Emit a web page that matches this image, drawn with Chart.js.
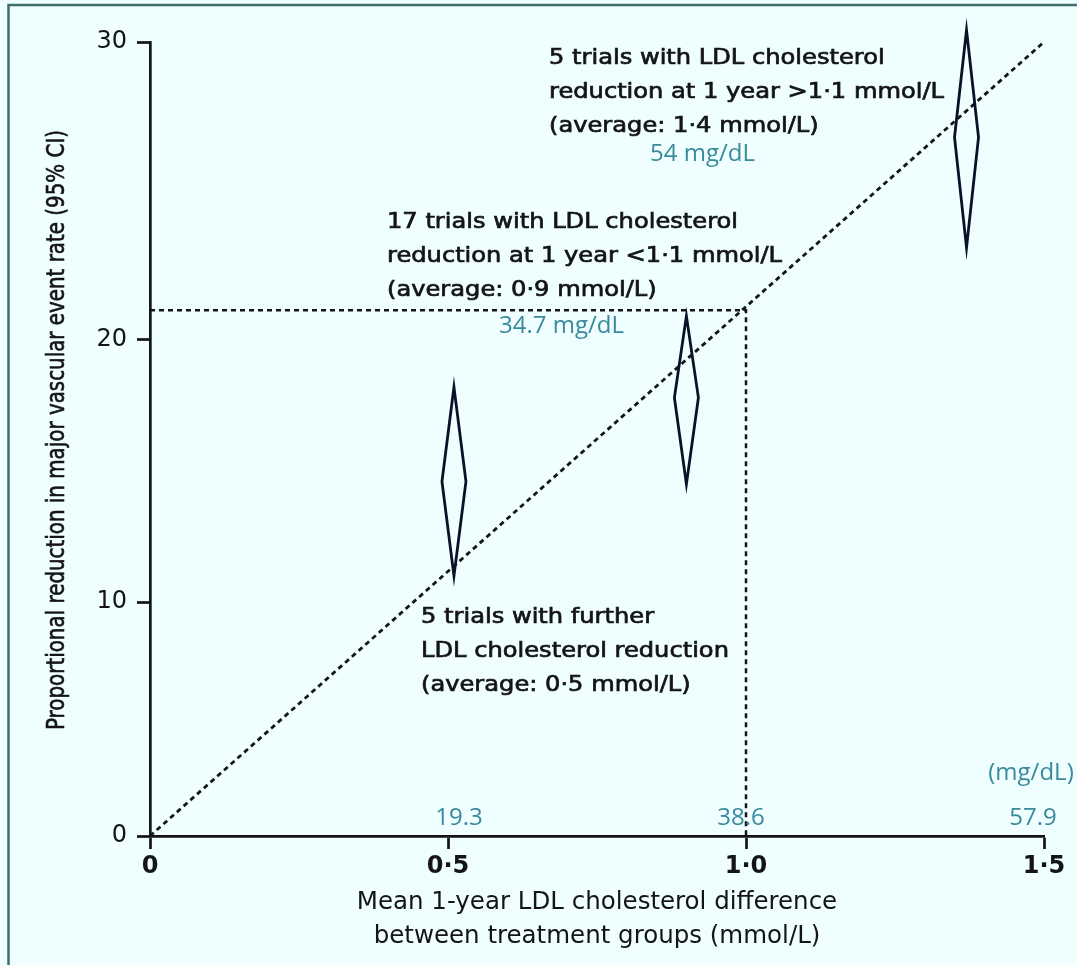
<!DOCTYPE html>
<html>
<head>
<meta charset="utf-8">
<script src="https://cdn.jsdelivr.net/npm/chart.js@4.4.1/dist/chart.umd.min.js"></script>
<style>
  html, body { margin: 0; padding: 0; background: #effefe; }
</style>
</head>
<body>
<canvas id="ldlChart" width="1077" height="965"></canvas>
<script>
// data
const groups = ['5 trials with further reduction', '17 trials <1·1 mmol/L', '5 trials >1·1 mmol/L'];
const ldlDiff = [0.51, 0.90, 1.37];      // mmol/L
const reduction = [14.6, 17.8, 26.8];    // % point estimate
const ciLow = [11.0, 14.5, 23.1];
const ciHigh = [18.2, 20.8, 30.4];

const trendX = [0, 1.5];
const trendY = [0, 30];
const refX = [0, 1.0, 1.0];
const refY = [21, 21, 0];

const xTicks = [0, 0.5, 1.0, 1.5];
const xTickLabels = ['0', '0·5', '1·0', '1·5'];
const yTicks = [0, 10, 20, 30];
const mgTicks = ['19.3', '38.6', '57.9'];   // mg/dL for 0.5, 1.0, 1.5

const black = '#141414';
const teal = '#3a8a9e';
const fontFam = '"DejaVu Sans", sans-serif';

// the printed y axis is not evenly spaced; keep its tick spacing
const yStopVals = [0, 10, 20, 30];
const yStopFrac = [0, 0.2947, 0.6247, 1];

class BentScale extends Chart.LinearScale {
  getPixelForValue(value) {
    if (value === null || value === undefined) return NaN;
    let i = 1;
    while (i < yStopVals.length - 1 && value > yStopVals[i]) i++;
    const v0 = yStopVals[i - 1], v1 = yStopVals[i];
    const f0 = yStopFrac[i - 1], f1 = yStopFrac[i];
    const d = f0 + (value - v0) / (v1 - v0) * (f1 - f0);
    return this.getPixelForDecimal(d);
  }
  getValueForPixel(pixel) {
    const d = this.getDecimalForPixel(pixel);
    let i = 1;
    while (i < yStopFrac.length - 1 && d > yStopFrac[i]) i++;
    const f0 = yStopFrac[i - 1], f1 = yStopFrac[i];
    return yStopVals[i - 1] + (d - f0) / (f1 - f0) * (yStopVals[i] - yStopVals[i - 1]);
  }
}
BentScale.id = 'bent';
BentScale.defaults = Chart.LinearScale.defaults;
Chart.register(BentScale);

const pts = (xs, ys) => xs.map((x, i) => ({ x: x, y: ys[i] }));

// text blocks: [lines, left x, first line y]
const notes = [
  [['5 trials with LDL cholesterol', 'reduction at 1 year >1·1 mmol/L', '(average: 1·4 mmol/L)'], 549, 58],
  [['17 trials with LDL cholesterol', 'reduction at 1 year <1·1 mmol/L', '(average: 0·9 mmol/L)'], 387, 222],
  [['5 trials with further', 'LDL cholesterol reduction', '(average: 0·5 mmol/L)'], 421, 617]
];

// fill + thin stroke so the text looks as heavy as the scan
function heavyText(ctx, t, x, y, w) {
  ctx.fillText(t, x, y);
  ctx.lineWidth = w;
  ctx.strokeText(t, x, y);
}

const pagePlugin = {
  id: 'page',
  beforeDraw(chart) {
    const ctx = chart.ctx;
    ctx.save();
    ctx.fillStyle = '#effefe';
    ctx.fillRect(0, 0, chart.width, chart.height);
    ctx.strokeStyle = '#3f6f6c';
    ctx.lineWidth = 2.5;
    ctx.beginPath();
    ctx.moveTo(8.5, chart.height);
    ctx.lineTo(8.5, 5);
    ctx.lineTo(chart.width, 5);
    ctx.stroke();
    ctx.restore();
  },
  afterDatasetsDraw(chart) {
    const ctx = chart.ctx;
    const x = chart.scales.x, y = chart.scales.y;
    ctx.save();
    ctx.strokeStyle = '#0a1228';
    ctx.lineWidth = 2.8;
    ctx.lineJoin = 'miter';
    for (let i = 0; i < ldlDiff.length; i++) {
      const cx = x.getPixelForValue(ldlDiff[i]);
      const top = y.getPixelForValue(ciHigh[i]);
      const mid = y.getPixelForValue(reduction[i]);
      const bot = y.getPixelForValue(ciLow[i]);
      ctx.beginPath();
      ctx.moveTo(cx, top);
      ctx.lineTo(cx + 12, mid);
      ctx.lineTo(cx, bot);
      ctx.lineTo(cx - 12, mid);
      ctx.closePath();
      ctx.stroke();
    }
    ctx.restore();
  },
  afterDraw(chart) {
    const ctx = chart.ctx;
    const x = chart.scales.x;
    ctx.save();
    ctx.textBaseline = 'middle';

    // black annotations, stretched a little like the scan
    ctx.font = '22px ' + fontFam;
    ctx.fillStyle = black;
    ctx.strokeStyle = black;
    const sx = 395 / ctx.measureText('reduction at 1 year <1·1 mmol/L').width;
    notes.forEach(([lines, lx, ly]) => {
      lines.forEach((t, k) => {
        ctx.save();
        ctx.translate(lx, ly + k * 34);
        ctx.scale(sx, 1);
        ctx.textAlign = 'left';
        heavyText(ctx, t, 0, 0, 0.7);
        ctx.restore();
      });
    });

    // y axis title, squeezed along its length
    ctx.save();
    ctx.font = '24px ' + fontFam;
    const yTitle = 'Proportional reduction in major vascular event rate (95% CI)';
    const k = 600 / ctx.measureText(yTitle).width;
    ctx.translate(58, 430);
    ctx.rotate(-Math.PI / 2);
    ctx.scale(k, 1);
    ctx.textAlign = 'center';
    heavyText(ctx, yTitle, 0, 0, 0.6);
    ctx.restore();

    // teal mg/dL labels
    ctx.fillStyle = teal;
    ctx.font = '24px "Open Sans", sans-serif';
    ctx.textAlign = 'left';
    ctx.fillText('54 mg/dL', 650, 154);
    ctx.fillText('34.7 mg/dL', 499, 326);
    ctx.textAlign = 'center';
    const dx = [11, -5, -11];
    [0.5, 1.0, 1.5].forEach((v, i) => {
      ctx.fillText(mgTicks[i], x.getPixelForValue(v) + dx[i], 818);
    });
    ctx.fillText('(mg/dL)', x.getPixelForValue(1.5) - 13, 773);
    ctx.restore();
  }
};

const axisLine = { color: black, width: 2.7 };
const tickMarks = { drawOnChartArea: false, tickLength: 13, tickWidth: 2.7, tickColor: black };

new Chart(document.getElementById('ldlChart'), {
  type: 'line',
  data: {
    datasets: [
      {
        label: 'Trend',
        data: pts(trendX, trendY),
        borderColor: black,
        borderWidth: 2.8,
        borderDash: [5, 4],
        pointRadius: 0,
        clip: false
      },
      {
        label: '1 mmol/L reference',
        data: pts(refX, refY),
        borderColor: black,
        borderWidth: 2.5,
        borderDash: [5, 4],
        pointRadius: 0,
        clip: false
      }
    ]
  },
  options: {
    responsive: false,
    animation: false,
    layout: { padding: { left: 0, top: 42, right: 33, bottom: 0 } },
    plugins: {
      legend: { display: false },
      tooltip: { enabled: false }
    },
    scales: {
      x: {
        type: 'linear',
        min: 0,
        max: 1.5,
        afterBuildTicks: s => { s.ticks = xTicks.map(v => ({ value: v })); },
        afterFit: s => { s.height = 129; },
        ticks: {
          callback: (v, i) => xTickLabels[i],
          font: { family: fontFam, size: 24, weight: 'bold' },
          color: black,
          padding: 3,
          maxRotation: 0,
          autoSkip: false
        },
        grid: tickMarks,
        border: axisLine,
        title: {
          display: true,
          text: ['Mean 1-year LDL cholesterol difference', 'between treatment groups (mmol/L)'],
          font: { family: fontFam, size: 24.5, lineHeight: 34 / 24.5 },
          color: black,
          padding: { top: 0, bottom: 11 }
        }
      },
      y: {
        type: 'bent',
        min: 0,
        max: 30,
        afterBuildTicks: s => { s.ticks = yTicks.map(v => ({ value: v })); },
        afterFit: s => { s.width = 150; },
        ticks: {
          callback: v => String(v),
          font: { family: fontFam, size: 24 },
          color: black,
          padding: 10
        },
        grid: tickMarks,
        border: axisLine
      }
    }
  },
  plugins: [pagePlugin]
});
</script>
</body>
</html>
